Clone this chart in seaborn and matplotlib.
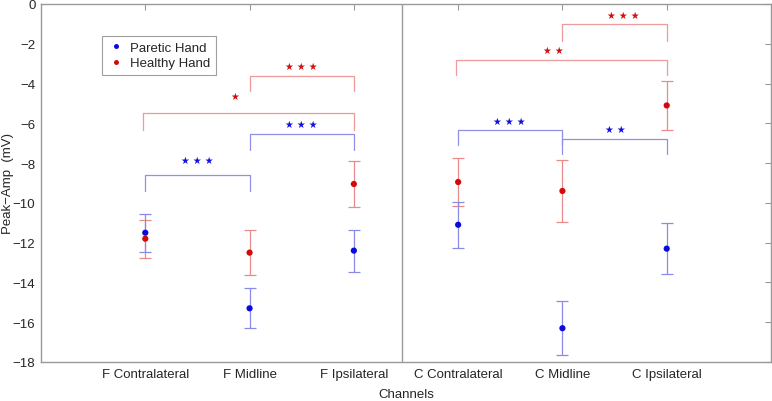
import numpy as np
import pandas as pd
import matplotlib
matplotlib.use("Agg")
import matplotlib.pyplot as plt
import seaborn as sns

# === Data ===
channels = ["F Contralateral", "F Midline", "F Ipsilateral",
            "C Contralateral", "C Midline", "C Ipsilateral"]
paretic_mean = [-11.5, -15.3, -12.4, -11.1, -16.3, -12.3]
paretic_err = [0.95, 1.0, 1.05, 1.15, 1.35, 1.3]
healthy_mean = [-11.8, -12.5, -9.05, -8.95, -9.4, -5.1]
healthy_err = [0.95, 1.15, 1.18, 1.2, 1.55, 1.22]

# significance brackets: (from, to, bar height, drop, stars, star x, star y, group)
brackets = [
    (1, 2, -8.6, 0.8, "***", 1.5, -7.85, "paretic"),
    (2, 3, -6.55, 0.78, "***", 2.5, -6.05, "paretic"),
    (0.98, 3, -5.5, 0.82, "*", 1.86, -4.6, "healthy"),
    (2, 3, -3.6, 0.77, "***", 2.5, -3.1, "healthy"),
    (4, 5, -6.35, 0.76, "***", 4.49, -5.9, "paretic"),
    (5, 6, -6.8, 0.76, "**", 5.51, -6.3, "paretic"),
    (3.98, 6, -2.8, 0.78, "**", 4.91, -2.3, "healthy"),
    (5, 6, -1.02, 0.85, "***", 5.58, -0.53, "healthy"),
]

dot_col = {"Paretic Hand": "#0a0ae0", "Healthy Hand": "#d40a0a"}
bar_col = {"Paretic Hand": "#8a8ae8", "Healthy Hand": "#e88a8a"}
star_col = {"paretic": "#1010e0", "healthy": "#d01010"}
brk_col = {"paretic": "#9090e8", "healthy": "#ec9a9a"}

x = np.arange(1, len(channels) + 1)
df = pd.DataFrame({
    "x": np.concatenate([x, x]),
    "amp": paretic_mean + healthy_mean,
    "err": paretic_err + healthy_err,
    "hand": ["Paretic Hand"] * 6 + ["Healthy Hand"] * 6,
})

sns.set_style("white")
plt.rcParams["font.family"] = ["Liberation Sans", "DejaVu Sans"]

fig = plt.figure(figsize=(7.72, 4.02), dpi=100)
ax = fig.add_axes([41 / 772, 1 - 363 / 402, 730 / 772, 358 / 402])

# error bars
for hand, sub in df.groupby("hand"):
    ax.errorbar(sub["x"], sub["amp"], yerr=sub["err"], fmt="none",
                ecolor=bar_col[hand], elinewidth=0.9, capsize=4, capthick=0.9, zorder=2)

sns.scatterplot(data=df, x="x", y="amp", hue="hand", palette=dot_col,
                hue_order=["Paretic Hand", "Healthy Hand"],
                s=20, edgecolor="none", ax=ax, zorder=3)

# divider between F and C channels
ax.axvline(3.46, color="#999999", lw=1)

# brackets and stars
for x1, x2, h, d, stars, sx, sy, grp in brackets:
    ax.plot([x1, x1, x2, x2], [h - d, h, h, h - d], color=brk_col[grp], lw=0.9, zorder=1)
    ax.text(sx, sy, " ".join("\u2605" * len(stars)), color=star_col[grp],
            fontsize=7, ha="center", va="center", family="DejaVu Sans")

ax.set_xlim(0, 7)
ax.set_ylim(-18, 0)
ax.set_xticks(x)
ax.set_xticklabels(channels)
ax.set_yticks(np.arange(-18, 1, 2))
ax.set_yticklabels([f"\u2212{abs(v)}" if v < 0 else str(v) for v in range(-18, 1, 2)])
ax.tick_params(direction="in", length=4, color="#999999", labelsize=9.5,
               top=True, right=True, pad=4)
for s in ax.spines.values():
    s.set_color("#999999")
    s.set_linewidth(1)
ax.set_xlabel("Channels", fontsize=9.5, labelpad=6)
ax.set_ylabel("Peak\u2212Amp  (mV)", fontsize=9.5)
ax.yaxis.set_label_coords(-0.037, 0.5)

leg = ax.legend(loc="upper left", bbox_to_anchor=(0.075, 0.928), fontsize=9.5,
                frameon=True, fancybox=False, edgecolor="#888888",
                handletextpad=0.4, borderpad=0.4, labelspacing=0.25,
                handlelength=1.3, markerscale=0.8)
leg.get_frame().set_linewidth(0.8)

fig.savefig("out.png", dpi=100)
